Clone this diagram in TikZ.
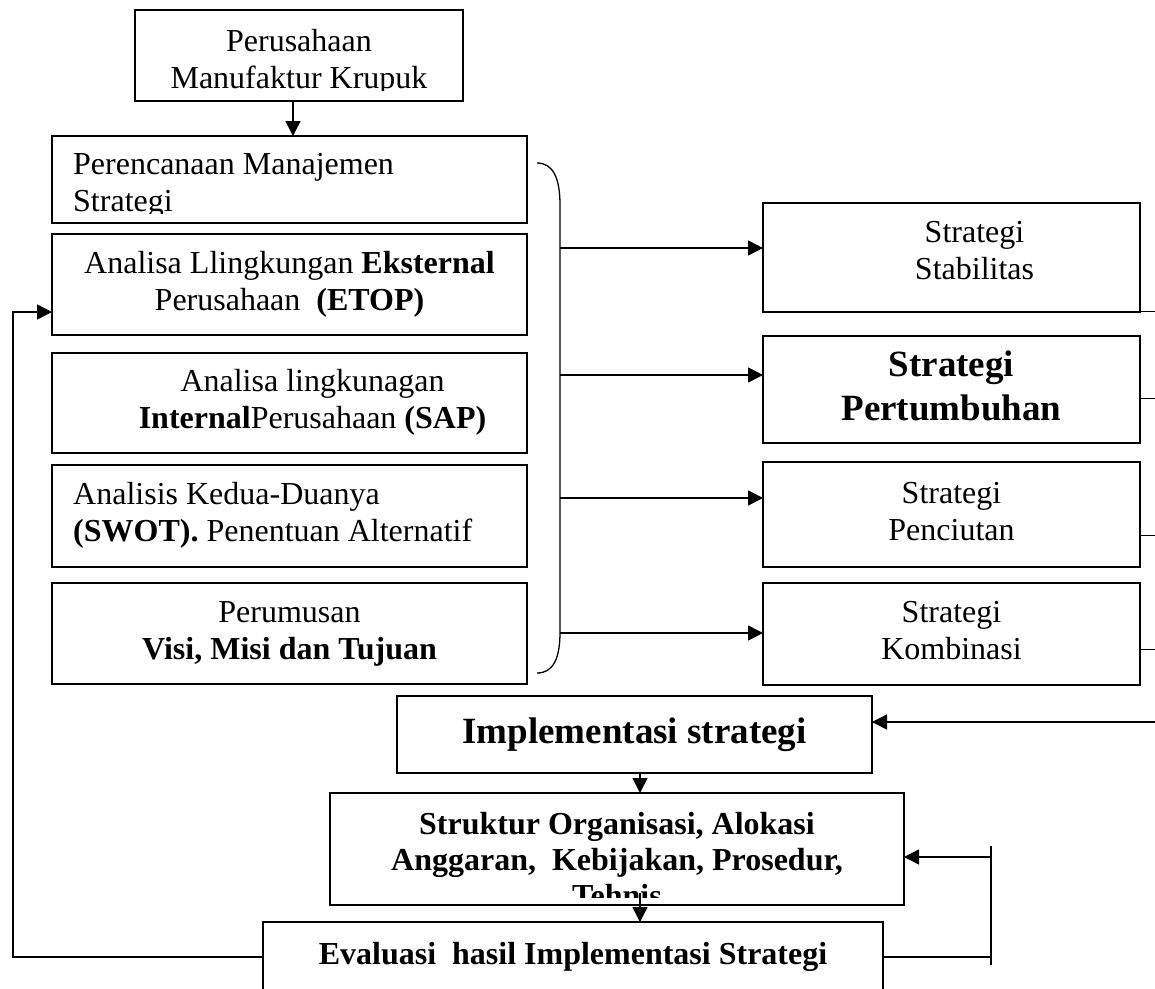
\documentclass[tikz,border=0pt]{standalone}
\usepackage{fontspec}
\setmainfont{Liberation Serif}
\usetikzlibrary{arrows.meta}

\begin{document}
\begin{tikzpicture}[x=1pt, y=-1pt,
    every node/.style={font=\fontsize{32}{37}\selectfont},
    box/.style={draw, line width=1.7pt, anchor=north west, inner sep=0pt,
                outer sep=0pt, align=center},
    lbox/.style={box, minimum width=475pt},
    rbox/.style={box, minimum width=377pt},
    txt/.style={inner sep=0pt, align=center},
    big/.style={font=\fontsize{37}{44}\selectfont\bfseries},
    bold/.style={font=\fontsize{32}{36}\selectfont\bfseries},
    arrow/.style={-{Triangle[length=15pt, width=15pt]}, line width=1.5pt},
    link/.style={line width=1.5pt},
    stub/.style={line width=1pt}
  ]
  \clip (0,0) rectangle (1155,988);

  % --- Company ---
  \node[box, minimum width=328pt, minimum height=91pt] (top) at (135,10) {};
  \begin{scope}
    \clip (top.north west) rectangle ([yshift=11pt]top.south east);
    \node[txt, yshift=-7pt] (top-t) at (top.center)
      {\strut Perusahaan\\\strut Manufaktur Krupuk};
  \end{scope}

  % --- Planning column ---
  \node[lbox, minimum height=87pt] (plan) at (52,136) {};
  \begin{scope}
    \clip (plan.north west) rectangle ([yshift=10pt]plan.south east);
    \node[txt, align=left, anchor=west, xshift=21pt, yshift=-6pt] (plan-t) at (plan.west)
      {\strut Perencanaan Manajemen\\\strut Strategi};
  \end{scope}
  \node[lbox, minimum height=101pt] (ext) at (52,234)
    {\strut Analisa Llingkungan \textbf{Eksternal}\\\strut Perusahaan \ \textbf{(ETOP)}};
  \node[lbox, minimum height=100pt] (int) at (52,353) {};
  \node[txt, xshift=23pt] (int-t) at (int.center)
    {\strut Analisa lingkunagan\\\strut \textbf{Internal}Perusahaan \textbf{(SAP)}};
  \node[lbox, minimum height=102pt] (swot) at (52,465) {};
  \node[txt, align=left, anchor=west, xshift=21pt] (swot-t) at (swot.west)
    {\strut Analisis Kedua-Duanya\\\strut \textbf{(SWOT).} Penentuan Alternatif};
  \node[lbox, minimum height=101pt] (visi) at (52,583)
    {\strut Perumusan\\\strut \textbf{Visi, Misi dan Tujuan}};

  % --- Brace ---
  \draw[line width=1.3pt] (537,163) .. controls (553,163) and (560,178) .. (560,205)
    -- (560,632) .. controls (560,659) and (553,673) .. (537,673);
  \coordinate (a1) at (560,248);
  \coordinate (a2) at (560,375);
  \coordinate (a3) at (560,498);
  \coordinate (a4) at (560,633);

  % --- Strategy alternatives ---
  \node[rbox, minimum height=109pt] (stab) at (763,203) {};
  \node[txt, xshift=23pt, yshift=4pt] (stab-t) at (stab.center)
    {\strut Strategi\\\strut Stabilitas};
  \node[rbox, big, minimum height=107pt] (pert) at (763,336)
    {\strut Strategi\\\strut Pertumbuhan};
  \node[rbox, minimum height=105pt] (penc) at (763,462)
    {\strut Strategi\\\strut Penciutan};
  \node[rbox, minimum height=102pt] (komb) at (763,583)
    {\strut Strategi\\\strut Kombinasi};

  % --- Implementation and evaluation ---
  \node[box, big, minimum width=475pt, minimum height=77pt] (impl) at (397,696)
    {\strut Implementasi strategi};
  \node[box, minimum width=574pt, minimum height=112pt] (struktur) at (330,793) {};
  \begin{scope}
    \clip (struktur.north west) rectangle ([yshift=8pt]struktur.south east);
    \node[txt, bold, yshift=-14pt] (struktur-t) at (struktur.center)
      {\strut Struktur Organisasi, Alokasi\\\strut Anggaran, \ Kebijakan, Prosedur,\\\strut Tehnis};
  \end{scope}
  \node[box, bold, minimum width=620pt, minimum height=70pt] (eval) at (263,922)
    {\strut Evaluasi \ hasil Implementasi Strategi};

  % --- Arrows ---
  \draw[arrow] ([xshift=-6pt]top.south) -- ([xshift=-6pt]top.south |- plan.north);
  \draw[arrow] (a1) -- (a1 -| stab.west);
  \draw[arrow] (a2) -- (a2 -| pert.west);
  \draw[arrow] (a3) -- (a3 -| penc.west);
  \draw[arrow] (a4) -- (a4 -| komb.west);

  % stubs on the right edge
  \coordinate (s1) at (1160,311);
  \coordinate (s2) at (1160,398);
  \coordinate (s3) at (1160,535);
  \coordinate (s4) at (1160,649);
  \draw[stub] (s1 -| stab.east) -- (s1);
  \draw[stub] (s2 -| pert.east) -- (s2);
  \draw[stub] (s3 -| penc.east) -- (s3);
  \draw[stub] (s4 -| komb.east) -- (s4);

  \coordinate (back) at (1160,722);
  \draw[arrow] (back) -- (back -| impl.east);
  \draw[arrow] ([xshift=5.5pt]impl.south) -- ([xshift=5.5pt]impl.south |- struktur.north);
  \draw[arrow] ([xshift=23pt,yshift=12pt]struktur.south) -- ([xshift=23pt]struktur.south |- eval.north);

  % feedback on the right
  \coordinate (fb1) at (991,846);
  \coordinate (fb2) at (991,965);
  \coordinate (fbin) at (991,857);
  \draw[link] (fb1) -- (fb2);
  \draw[arrow] (fbin) -- (fbin -| struktur.east);
  \draw[link] (eval.east) -- (eval.east -| fb1);

  % feedback on the left
  \coordinate (lf) at (13,312);
  \draw[arrow] (eval.west) -| (lf) -- (lf -| ext.west);
\end{tikzpicture}
\end{document}
